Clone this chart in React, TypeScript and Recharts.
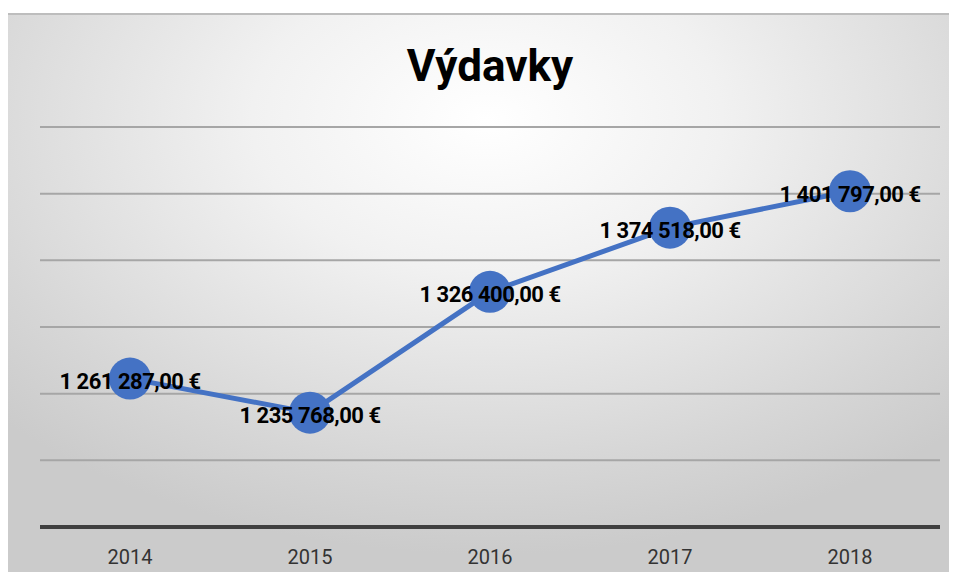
import { CartesianGrid, LabelList, Line, LineChart, XAxis, YAxis } from "recharts";

const years = ["2014", "2015", "2016", "2017", "2018"];
const expenses = [1261287, 1235768, 1326400, 1374518, 1401797];
const yTicks = [1150000, 1200000, 1250000, 1300000, 1350000, 1400000, 1450000];

const data = years.map((year, i) => ({ year, value: expenses[i] }));

const FONT = "Roboto, 'Liberation Sans', sans-serif";

function formatEur(v: number) {
  const whole = Math.round(v)
    .toString()
    .replace(/\B(?=(\d{3})+(?!\d))/g, " ");
  return `${whole},00 €`;
}

function ValueLabel(props: any) {
  const { x, y, value } = props;
  return (
    <text
      x={x}
      y={y + 3}
      textAnchor="middle"
      dominantBaseline="central"
      fill="#000"
      fontSize={22}
      fontWeight={700}
      letterSpacing={-0.5}
      fontFamily={FONT}
    >
      {formatEur(Number(value))}
    </text>
  );
}

export default function App() {
  return (
    <div style={{ position: "relative", width: 957, height: 580, margin: -8, overflow: "hidden", background: "#fff" }}>
      <div
        style={{
          position: "absolute",
          left: 5,
          top: 13,
          width: 960,
          height: 580,
          borderTop: "2px solid #bdbdbd",
          borderLeft: "2px solid #bdbdbd",
          background: "radial-gradient(ellipse 70% 75% at 50% 18%, #ffffff 0%, #f1f1f1 35%, #d6d6d6 80%, #cbcbcb 100%)",
        }}
      />
      <div
        style={{
          position: "absolute",
          left: 0,
          width: 980,
          top: 40,
          textAlign: "center",
          fontFamily: FONT,
          fontWeight: 700,
          fontSize: 44,
          color: "#000",
        }}
      >
        Výdavky
      </div>
      <div style={{ position: "absolute", left: 0, top: 0 }}>
        <LineChart width={957} height={580} data={data} margin={{ top: 127, right: 17, left: 40, bottom: 23 }}>
          <CartesianGrid vertical={false} stroke="#a6a6a6" strokeWidth={2} />
          <XAxis
            dataKey="year"
            height={30}
            padding={{ left: 90, right: 90 }}
            tickLine={false}
            axisLine={{ stroke: "#404040", strokeWidth: 4 }}
            tick={{ fill: "#333", fontSize: 20, fontFamily: FONT }}
            tickMargin={17}
          />
          <YAxis hide domain={[1150000, 1450000]} ticks={yTicks} />
          <Line
            type="linear"
            dataKey="value"
            stroke="#4472C4"
            strokeWidth={5}
            dot={{ r: 21, fill: "#4472C4", stroke: "none" }}
            isAnimationActive={false}
          >
            <LabelList dataKey="value" content={<ValueLabel />} />
          </Line>
        </LineChart>
      </div>
    </div>
  );
}
